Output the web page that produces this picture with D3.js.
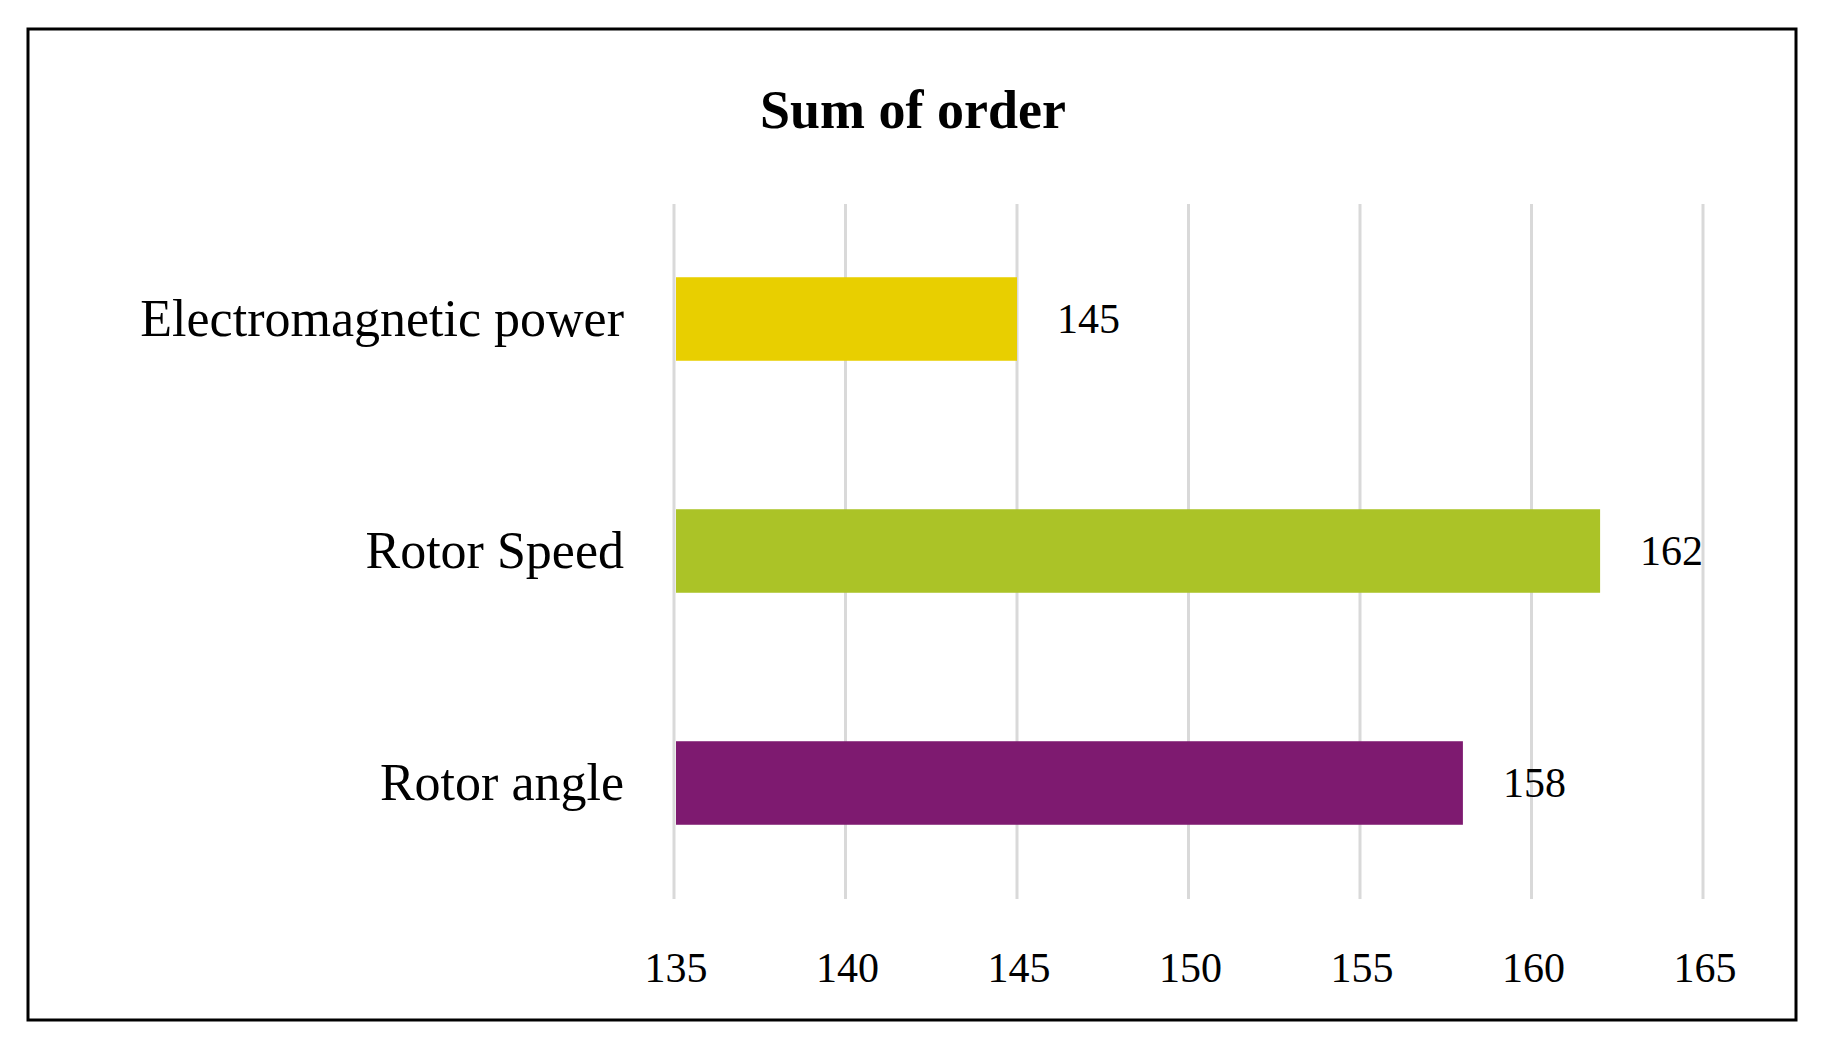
<!DOCTYPE html>
<html>
<head>
<meta charset="utf-8">
<script src="https://cdn.jsdelivr.net/npm/d3@7"></script>
<style>
  body { margin: 0; background: #fff; }
  text { font-family: "Liberation Serif", "Times New Roman", serif; }
</style>
</head>
<body>
<svg id="chart" width="1822" height="1040"></svg>
<script>
const categories = ["Electromagnetic power", "Rotor Speed", "Rotor angle"];
const values = [145, 162, 158];
const barColors = ["#E8CF00", "#ABC327", "#7E1A70"];
const tickValues = [135, 140, 145, 150, 155, 160, 165];

const svg = d3.select("#chart");

// outer frame
svg.append("rect")
    .attr("x", 28).attr("y", 29)
    .attr("width", 1768).attr("height", 991)
    .attr("fill", "none").attr("stroke", "#000").attr("stroke-width", 3);

svg.append("text")
    .attr("x", 913).attr("y", 128)
    .attr("text-anchor", "middle")
    .style("font-size", "54px").style("font-weight", "bold")
    .text("Sum of order");

const x = d3.scaleLinear().domain([135, 165]).range([674, 1703]);
const y = d3.scaleBand().domain(categories).range([203, 899]).paddingInner(0.64).paddingOuter(0.32);

// gridlines
svg.append("g").selectAll("line")
    .data(tickValues).join("line")
    .attr("x1", d => x(d)).attr("x2", d => x(d))
    .attr("y1", 204).attr("y2", 899)
    .attr("stroke", "#d9d9d9").attr("stroke-width", 3);

// tick labels
svg.append("g").selectAll("text")
    .data(tickValues).join("text")
    .attr("x", d => x(d) + 2).attr("y", 982)
    .attr("text-anchor", "middle")
    .style("font-size", "42px")
    .text(d => d);

const data = categories.map((c, i) => ({ c, v: values[i], color: barColors[i] }));

svg.append("g").selectAll("rect")
    .data(data).join("rect")
    .attr("x", x(135) + 2)
    .attr("y", d => y(d.c))
    .attr("width", d => x(d.v) - x(135) - 2)
    .attr("height", y.bandwidth())
    .attr("fill", d => d.color);

svg.append("g").selectAll("text")
    .data(data).join("text")
    .attr("x", d => x(d.v) + 40)
    .attr("y", d => y(d.c) + y.bandwidth() / 2 + 14)
    .style("font-size", "42px")
    .text(d => d.v);

svg.append("g").selectAll("text")
    .data(data).join("text")
    .attr("x", 624)
    .attr("y", d => y(d.c) + y.bandwidth() / 2 + 17)
    .attr("text-anchor", "end")
    .style("font-size", "52px")
    .text(d => d.c);
</script>
</body>
</html>
